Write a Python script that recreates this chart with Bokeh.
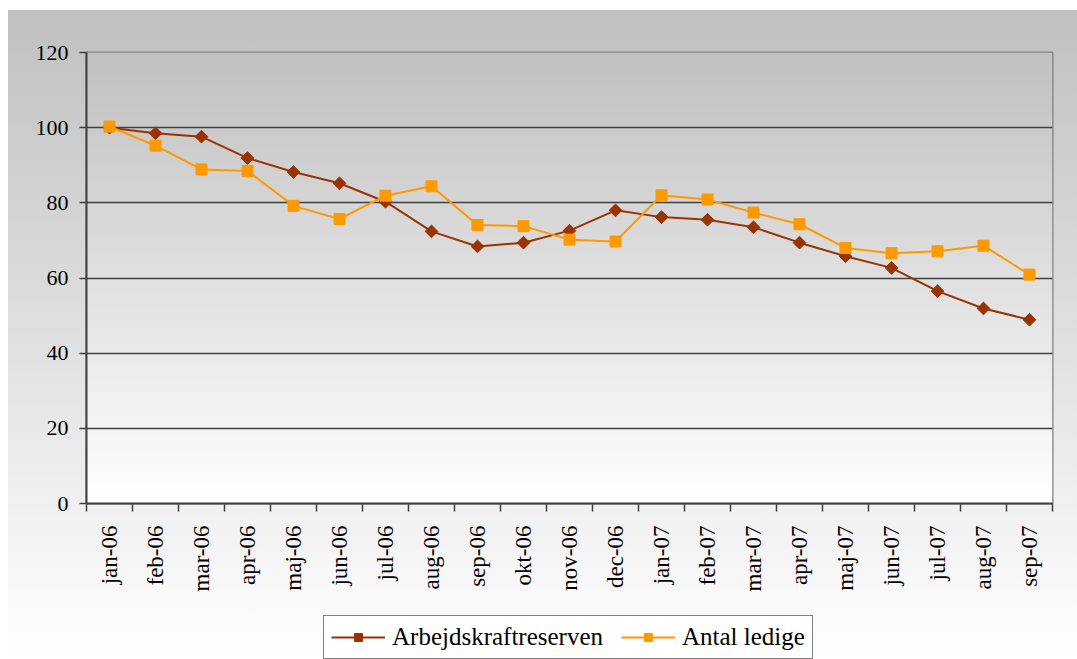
import numpy as np
from bokeh.plotting import figure
from bokeh.layouts import column
from bokeh.models import (Range1d, LinearAxis, FixedTicker, Legend, LegendItem)
from bokeh.embed import file_html
from bokeh.resources import INLINE

months = ["jan-06", "feb-06", "mar-06", "apr-06", "maj-06", "jun-06", "jul-06",
          "aug-06", "sep-06", "okt-06", "nov-06", "dec-06", "jan-07", "feb-07",
          "mar-07", "apr-07", "maj-07", "jun-07", "jul-07", "aug-07", "sep-07"]
arbejdskraftreserven = [100, 98.5, 97.6, 91.9, 88.2, 85.2, 80.3, 72.4, 68.4, 69.4, 72.6,
                        78.0, 76.2, 75.5, 73.5, 69.4, 65.8, 62.7, 56.5, 51.9, 48.9]
antal_ledige = [100.3, 95.2, 88.9, 88.5, 79.2, 75.7, 81.9, 84.4, 74.1, 73.8, 70.2,
                69.7, 82.0, 80.9, 77.4, 74.3, 68.0, 66.6, 67.1, 68.6, 60.9]
y_ticks = [0, 20, 40, 60, 80, 100, 120]
series_names = ["Arbejdskraftreserven", "Antal ledige"]

FONT = "Liberation Serif"
DARK = "#993300"
ORANGE = "#ff9900"

# category slots: month i occupies [i, i+1], point at its centre
centers = [i + 0.5 for i in range(len(months))]
edges = list(range(len(months) + 1))
y_max = y_ticks[-1]

p = figure(frame_width=966, frame_height=451, x_range=Range1d(0, len(months)),
           y_range=Range1d(0, y_max),
           output_backend="svg", toolbar_location=None, x_axis_location=None,
           min_border_left=86, min_border_right=25, min_border_top=52, min_border_bottom=108)

p.border_fill_alpha = 0
p.background_fill_color = "#ffffff"
p.outline_line_color = "#808080"
p.outline_line_width = 2

# plot-area vertical gradient (background image)
n = 256
img = np.empty((n, 1), dtype=np.uint32)
view = img.view(dtype=np.uint8).reshape((n, 1, 4))
for i in range(n):
    c = int(round(255 - 63 * (i + 0.5) / n))
    view[i, 0, :] = [c, c, c, 255]
p.image_rgba(image=[img], x=edges[0], y=0, dw=len(months), dh=y_max, level="image")

# y axis
p.yaxis.ticker = FixedTicker(ticks=y_ticks)
p.yaxis.major_label_text_font = FONT
p.yaxis.major_label_text_font_size = "22px"
p.yaxis.major_label_text_color = "black"
p.yaxis.axis_line_color = "#404040"
p.yaxis.axis_line_width = 2
p.yaxis.major_tick_line_color = "#404040"
p.yaxis.major_tick_line_width = 1.5
p.yaxis.major_tick_out = 7
p.yaxis.major_tick_in = 0
p.yaxis.minor_tick_line_color = None
p.yaxis.major_label_standoff = 11

p.ygrid.ticker = FixedTicker(ticks=y_ticks)
p.ygrid.grid_line_color = "#404040"
p.ygrid.grid_line_width = 1.3
p.xgrid.visible = False

# x axis: labels at category centres, tick marks between categories
x_axis = LinearAxis(ticker=FixedTicker(ticks=centers, minor_ticks=edges),
                    major_label_overrides={c: m for c, m in zip(centers, months)},
                    major_tick_line_color=None, major_tick_out=0, major_tick_in=0,
                    minor_tick_line_color="#404040", minor_tick_line_width=1.5,
                    minor_tick_out=8, minor_tick_in=0,
                    axis_line_color="#404040", axis_line_width=2,
                    major_label_orientation=np.pi / 2,
                    major_label_text_font=FONT, major_label_text_font_size="23px",
                    major_label_text_color="black", major_label_standoff=14)
p.add_layout(x_axis, "below")

# series
p.line(centers, arbejdskraftreserven, line_color=DARK, line_width=2)
p.scatter(centers, arbejdskraftreserven, marker="square", angle=np.pi / 4, size=9,
          fill_color=DARK, line_color=DARK)
p.line(centers, antal_ledige, line_color=ORANGE, line_width=2)
p.scatter(centers, antal_ledige, marker="square", size=11,
          fill_color=ORANGE, line_color=ORANGE)

# legend strip below the chart (same styles as the series; proxy renderers lie off-range)
lf = figure(width=1077, height=48, x_range=Range1d(0, 1), y_range=Range1d(0, 1),
            output_backend="svg", toolbar_location=None,
            x_axis_location=None, y_axis_location=None,
            min_border_left=0, min_border_right=0, min_border_top=0, min_border_bottom=0)
lf.border_fill_alpha = 0
lf.background_fill_alpha = 0
lf.outline_line_color = None
lf.grid.visible = False
off = [5, 6]
dl1 = lf.line(x=off, y=off, line_color=DARK, line_width=2)
ds1 = lf.scatter(x=off, y=off, marker="square", angle=np.pi / 4, size=9,
                 fill_color=DARK, line_color=DARK)
dl2 = lf.line(x=off, y=off, line_color=ORANGE, line_width=2)
ds2 = lf.scatter(x=off, y=off, marker="square", size=11, fill_color=ORANGE, line_color=ORANGE)

legend = Legend(items=[LegendItem(label=series_names[0], renderers=[dl1, ds1]),
                       LegendItem(label=series_names[1], renderers=[dl2, ds2])],
                orientation="horizontal", location=(237, 0))
legend.label_text_font = FONT
legend.label_text_font_size = "25px"
legend.label_text_color = "black"
legend.border_line_color = "black"
legend.border_line_width = 1
legend.background_fill_color = "white"
legend.background_fill_alpha = 1
legend.glyph_width = 54
legend.label_standoff = 7
legend.padding = 7
legend.spacing = 18
legend.margin = 0
lf.add_layout(legend)

layout = column(p, lf, spacing=0,
                styles={"background": "linear-gradient(to bottom, #c0c0c0, #ffffff) 8px 10px / "
                                      "calc(100% - 8px) calc(100% - 10px) no-repeat, #ffffff"})

open("out.html", "w").write(file_html(layout, INLINE))
